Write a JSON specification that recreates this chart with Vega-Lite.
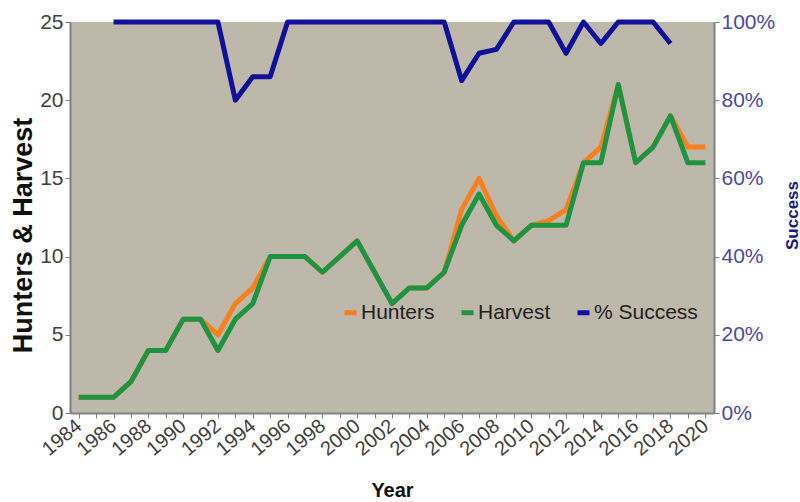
{
  "$schema": "https://vega.github.io/schema/vega-lite/v6.json",
  "width": 644,
  "height": 391,
  "autosize": {"type": "none"},
  "padding": {"left": 70, "top": 22, "right": 86, "bottom": 89},
  "background": "white",
  "config": {
    "view": {"fill": "#bdb8aa", "stroke": null},
    "font": "Liberation Sans",
    "axis": {"labelOverlap": false}
  },
  "data": {
    "values": [
      {"year": 1984, "Hunters": 1, "Harvest": 1, "success": null},
      {"year": 1985, "Hunters": 1, "Harvest": 1, "success": null},
      {"year": 1986, "Hunters": 1, "Harvest": 1, "success": 100},
      {"year": 1987, "Hunters": 2, "Harvest": 2, "success": 100},
      {"year": 1988, "Hunters": 4, "Harvest": 4, "success": 100},
      {"year": 1989, "Hunters": 4, "Harvest": 4, "success": 100},
      {"year": 1990, "Hunters": 6, "Harvest": 6, "success": 100},
      {"year": 1991, "Hunters": 6, "Harvest": 6, "success": 100},
      {"year": 1992, "Hunters": 5, "Harvest": 4, "success": 100},
      {"year": 1993, "Hunters": 7, "Harvest": 6, "success": 80},
      {"year": 1994, "Hunters": 8, "Harvest": 7, "success": 86},
      {"year": 1995, "Hunters": 10, "Harvest": 10, "success": 86},
      {"year": 1996, "Hunters": 10, "Harvest": 10, "success": 100},
      {"year": 1997, "Hunters": 10, "Harvest": 10, "success": 100},
      {"year": 1998, "Hunters": 9, "Harvest": 9, "success": 100},
      {"year": 1999, "Hunters": 10, "Harvest": 10, "success": 100},
      {"year": 2000, "Hunters": 11, "Harvest": 11, "success": 100},
      {"year": 2001, "Hunters": 9, "Harvest": 9, "success": 100},
      {"year": 2002, "Hunters": 7, "Harvest": 7, "success": 100},
      {"year": 2003, "Hunters": 8, "Harvest": 8, "success": 100},
      {"year": 2004, "Hunters": 8, "Harvest": 8, "success": 100},
      {"year": 2005, "Hunters": 9, "Harvest": 9, "success": 100},
      {"year": 2006, "Hunters": 13, "Harvest": 12, "success": 85},
      {"year": 2007, "Hunters": 15, "Harvest": 14, "success": 92},
      {"year": 2008, "Hunters": 12.6, "Harvest": 12, "success": 93},
      {"year": 2009, "Hunters": 11, "Harvest": 11, "success": 100},
      {"year": 2010, "Hunters": 12, "Harvest": 12, "success": 100},
      {"year": 2011, "Hunters": 12.3, "Harvest": 12, "success": 100},
      {"year": 2012, "Hunters": 13, "Harvest": 12, "success": 92},
      {"year": 2013, "Hunters": 16, "Harvest": 16, "success": 100},
      {"year": 2014, "Hunters": 17, "Harvest": 16, "success": 94.5},
      {"year": 2015, "Hunters": 21, "Harvest": 21, "success": 100},
      {"year": 2016, "Hunters": 16, "Harvest": 16, "success": 100},
      {"year": 2017, "Hunters": 17, "Harvest": 17, "success": 100},
      {"year": 2018, "Hunters": 19, "Harvest": 19, "success": 94.5},
      {"year": 2019, "Hunters": 17, "Harvest": 16, "success": null},
      {"year": 2020, "Hunters": 17, "Harvest": 16, "success": null}
    ]
  },
  "encoding": {
    "x": {
      "field": "year",
      "type": "quantitative",
      "scale": {"domain": [1983.5, 2020.5], "nice": false, "zero": false},
      "axis": {
        "values": [1984,1985,1986,1987,1988,1989,1990,1991,1992,1993,1994,1995,1996,1997,1998,1999,2000,2001,2002,2003,2004,2005,2006,2007,2008,2009,2010,2011,2012,2013,2014,2015,2016,2017,2018,2019,2020],
        "labelExpr": "datum.value % 2 == 0 ? '' + datum.value : ''",
        "labelAngle": -40,
        "labelAlign": "right",
        "labelBaseline": "middle",
        "labelFontSize": 20,
        "labelColor": "#404040",
        "labelPadding": 5,
        "labelOverlap": false,
        "labelFlush": false,
        "labelBound": false,
        "domainColor": "#808080",
        "domainWidth": 2,
        "tickColor": "#808080",
        "tickSize": 5,
        "grid": false,
        "title": "Year",
        "titleFontSize": 20,
        "titleFontWeight": "bold",
        "titleColor": "#111111",
        "titleBaseline": "middle",
        "titleY": 77
      }
    }
  },
  "layer": [
    {
      "transform": [{"fold": ["Hunters", "Harvest"], "as": ["series", "value"]}],
      "mark": {"type": "line", "strokeWidth": 5, "strokeJoin": "round"},
      "encoding": {
        "y": {
          "field": "value",
          "type": "quantitative",
          "scale": {"domain": [0, 25], "nice": false},
          "axis": {
            "values": [0, 5, 10, 15, 20, 25],
            "labelFontSize": 21,
            "labelColor": "#404040",
            "labelPadding": 2,
            "domainColor": "#808080",
            "domainWidth": 2,
            "tickColor": "#808080",
            "tickSize": 5,
            "grid": false,
            "title": "Hunters & Harvest",
            "titleFontSize": 27,
            "titleFontWeight": "bold",
            "titleColor": "#111111",
            "titleAngle": -90,
            "titleAlign": "center",
            "titleBaseline": "middle",
            "titleX": -47,
            "titleY": 213
          }
        },
        "color": {
          "field": "series",
          "type": "nominal",
          "scale": {"domain": ["Hunters", "Harvest", "% Success"], "range": ["#f7801e", "#1e9443", "#10109a"]},
          "legend": {
            "orient": "none",
            "legendX": 270,
            "legendY": 280,
            "direction": "horizontal",
            "title": null,
            "symbolType": "stroke",
            "symbolSize": 144,
            "symbolStrokeWidth": 5,
            "labelFontSize": 21,
            "labelColor": "#222222",
            "labelOffset": 0,
            "columnPadding": 16,
            "padding": 0
          }
        }
      }
    },
    {
      "transform": [{"filter": "isValid(datum.success)"}],
      "mark": {"type": "line", "strokeWidth": 5, "strokeJoin": "round"},
      "encoding": {
        "y": {
          "field": "success",
          "type": "quantitative",
          "scale": {"domain": [0, 100], "nice": false},
          "axis": {
            "orient": "right",
            "values": [0, 20, 40, 60, 80, 100],
            "labelExpr": "datum.value + '%'",
            "labelFontSize": 21,
            "labelColor": "#4a4aa5",
            "labelPadding": 2,
            "domainColor": "#808080",
            "domainWidth": 2,
            "tickColor": "#808080",
            "tickSize": 5,
            "grid": false,
            "title": "Success",
            "titleFontSize": 17,
            "titleFontWeight": "bold",
            "titleColor": "#1a1a80",
            "titleAngle": -90,
            "titleAlign": "center",
            "titleBaseline": "middle",
            "titleX": 78,
            "titleY": 193
          }
        },
        "color": {"datum": "% Success"}
      }
    }
  ],
  "resolve": {"scale": {"y": "independent"}}
}
